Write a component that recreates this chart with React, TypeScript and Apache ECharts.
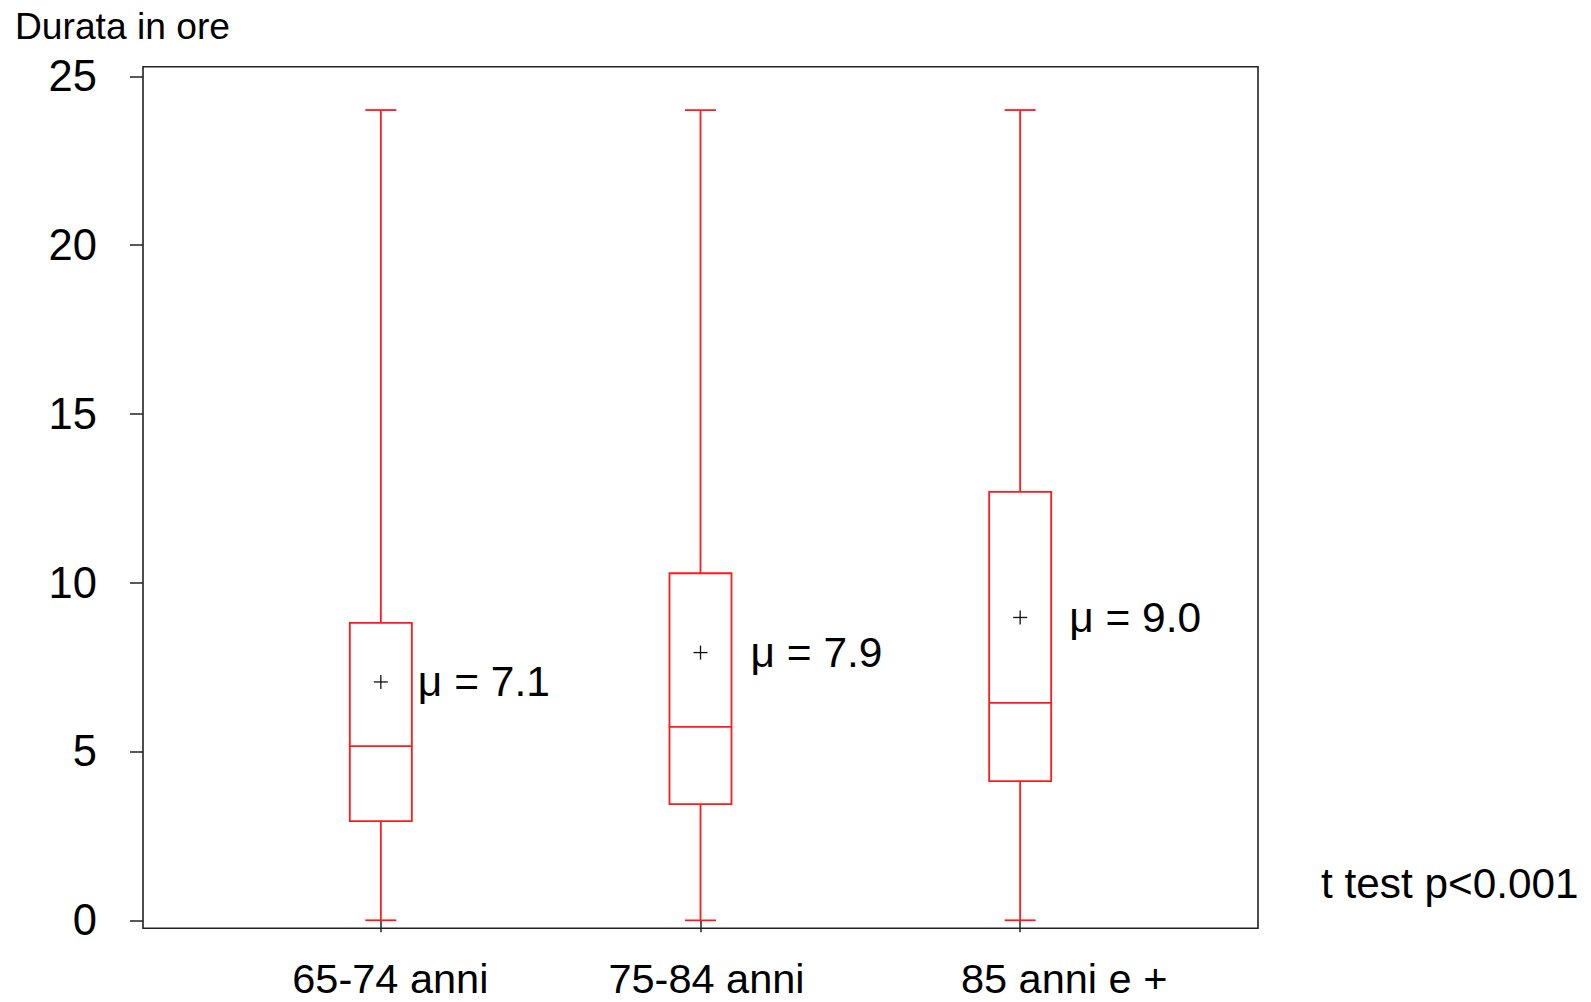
import React, { useEffect, useRef } from "react";
import * as echarts from "echarts";

const categories = ["65-74 anni", "75-84 anni", "85 anni e +"];
const positions = [1, 2, 3];
const mins = [0, 0, 0];
const q1s = [2.94, 3.44, 4.12];
const medians = [5.16, 5.73, 6.44];
const q3s = [8.81, 10.28, 12.69];
const maxs = [24, 24, 24];
const means = [7.06, 7.93, 8.97];
const yTicks = [0, 5, 10, 15, 20, 25];

const FONT = "'Liberation Sans', Arial, sans-serif";
const RED = "#ff1a1a";
const BOX_HALF = 0.097;
const CAP_HALF = 0.0485;
const LABEL_DX = [37, 50, 49];

export default function App() {
  const ref = useRef<HTMLDivElement>(null);
  useEffect(() => {
    if (!ref.current) return;
    const chart = echarts.init(ref.current, null, { renderer: "svg" });
    const data = positions.map((p, i) => [p, mins[i], q1s[i], medians[i], q3s[i], maxs[i], means[i]]);

    const renderItem = (params: any, api: any) => {
      const x = api.value(0);
      const lo = api.value(1);
      const q1 = api.value(2);
      const med = api.value(3);
      const q3 = api.value(4);
      const hi = api.value(5);
      const mean = api.value(6);
      const c = (vx: number, vy: number) => api.coord([vx, vy]);
      const [xl, yq3] = c(x - BOX_HALF, q3);
      const [xr, yq1] = c(x + BOX_HALF, q1);
      const [xc, ymed] = c(x, med);
      const ylo = c(x, lo)[1];
      const yhi = c(x, hi)[1];
      const cl = c(x - CAP_HALF, 0)[0];
      const cr = c(x + CAP_HALF, 0)[0];
      const ymean = c(x, mean)[1];
      const style = { stroke: RED, lineWidth: 1.8, fill: "none" };
      const pstyle = { stroke: "#111", lineWidth: 1.3 };
      return {
        type: "group",
        children: [
          { type: "line", shape: { x1: xc, y1: yhi, x2: xc, y2: yq3 }, style },
          { type: "line", shape: { x1: xc, y1: yq1, x2: xc, y2: ylo }, style },
          { type: "line", shape: { x1: cl, y1: yhi, x2: cr, y2: yhi }, style },
          { type: "line", shape: { x1: cl, y1: ylo, x2: cr, y2: ylo }, style },
          { type: "rect", shape: { x: xl, y: yq3, width: xr - xl, height: yq1 - yq3 }, style },
          { type: "line", shape: { x1: xl, y1: ymed, x2: xr, y2: ymed }, style },
          { type: "line", shape: { x1: xc - 7, y1: ymean, x2: xc + 7, y2: ymean }, style: pstyle },
          { type: "line", shape: { x1: xc, y1: ymean - 7, x2: xc, y2: ymean + 7 }, style: pstyle },
          {
            type: "text",
            x: xc + LABEL_DX[params.dataIndex],
            y: ymean,
            style: {
              text: "μ = " + mean.toFixed(1),
              fontSize: 42.5,
              fontFamily: FONT,
              fill: "#000",
              align: "left",
              verticalAlign: "middle",
            },
          },
        ],
      };
    };

    const richStyle = (padLeft: number) => ({
      fontSize: 41.5,
      fontFamily: FONT,
      color: "#000",
      lineHeight: 34,
      padding: [0, 0, 0, padLeft],
    });

    chart.setOption({
      animation: false,
      backgroundColor: "#fff",
      grid: {
        left: 143,
        right: 333,
        top: 66.7,
        bottom: 73.7,
        show: true,
        borderColor: "#222",
        borderWidth: 1.6,
        backgroundColor: "transparent",
        containLabel: false,
      },
      xAxis: {
        type: "value",
        min: 0.256,
        max: 3.744,
        splitLine: { show: false },
        axisLine: { show: false },
        axisTick: {
          show: true,
          length: 12,
          customValues: positions,
          lineStyle: { color: "#222", width: 1.5 },
        },
        axisLabel: {
          show: true,
          customValues: positions,
          margin: 33,
          color: "#000",
          fontSize: 41.5,
          lineHeight: 34,
          fontFamily: FONT,
          formatter: (v: number) => {
            const i = positions.indexOf(Math.round(v));
            return i >= 0 ? `{c${i}|${categories[i]}}` : "";
          },
          rich: {
            c0: richStyle(19),
            c1: richStyle(12),
            c2: richStyle(88),
          },
        },
      },
      yAxis: {
        type: "value",
        min: -0.237,
        max: 25.284,
        splitLine: { show: false },
        axisLine: { show: false },
        axisTick: {
          show: true,
          length: 13,
          customValues: yTicks,
          lineStyle: { color: "#222", width: 1.5 },
        },
        axisLabel: {
          show: true,
          customValues: yTicks,
          margin: 46,
          color: "#000",
          fontSize: 43.5,
          fontFamily: FONT,
          padding: [6, 0, 0, 0],
        },
      },
      graphic: [
        {
          type: "text",
          left: 15,
          top: 7,
          style: { text: "Durata in ore", fontSize: 37.2, fontFamily: FONT, fill: "#000" },
        },
        {
          type: "text",
          x: 1321,
          y: 883,
          style: {
            text: "t test p<0.001",
            fontSize: 42.3,
            fontFamily: FONT,
            fill: "#000",
            align: "left",
            verticalAlign: "middle",
          },
        },
      ],
      series: [
        {
          type: "custom",
          renderItem,
          data,
          encode: { x: 0, y: [1, 2, 3, 4, 5, 6] },
          silent: true,
        },
      ],
    });
    return () => chart.dispose();
  }, []);
  return (
    <div
      ref={ref}
      style={{ position: "fixed", left: 0, top: 0, width: 1591, height: 1002, background: "#fff" }}
    />
  );
}
